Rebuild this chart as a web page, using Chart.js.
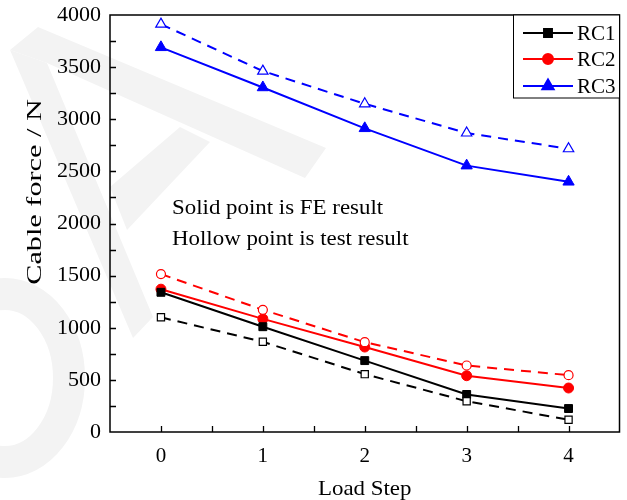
<!DOCTYPE html>
<html>
<head>
<meta charset="utf-8">
<script src="https://cdn.jsdelivr.net/npm/chart.js@4"></script>
<style>
  html, body { margin: 0; padding: 0; background: #fff; }
  #wrap { width: 627px; height: 500px; }
</style>
</head>
<body>
<div id="wrap"><canvas id="chart-cable" width="627" height="500"></canvas></div>
<script>
// ── Data ──────────────────────────────────────────────────────────────────────
const loadSteps = [0, 1, 2, 3, 4];
const rc1FE   = [1340, 1010, 685, 360, 225];
const rc1Test = [1100, 865, 555, 295, 118];
const rc2FE   = [1370, 1085, 815, 540, 422];
const rc2Test = [1515, 1172, 862, 638, 545];
const rc3FE   = [3690, 3305, 2913, 2555, 2400];
const rc3Test = [3912, 3462, 3148, 2868, 2717];

const legendNames = ['RC1', 'RC2', 'RC3'];
const noteLines = ['Solid point is FE result', 'Hollow point is test result'];
const xTitle = 'Load Step';
const yTitle = 'Cable force / N';

const FONT = "'Liberation Serif', 'Times New Roman', serif";
const DASH = [10, 7];

function _toXY(arr) {
  return loadSteps.map((s, i) => ({ x: s, y: arr[i] }));
}

// marker style per series
const seriesStyle = [
  { color: '#000000', style: 'rect', radius: 5.6 },
  { color: '#ff0000', style: 'circle', radius: 5 },
  { color: '#0000ff', style: 'triangle', radius: 6.5 },
];

function _solid(label, arr, s) {
  return {
    label,
    data: _toXY(arr),
    borderColor: s.color,
    backgroundColor: s.color,
    borderWidth: 2,
    pointStyle: s.style,
    pointRadius: s.radius,
    pointBackgroundColor: s.color,
    pointBorderColor: s.color,
    pointBorderWidth: 1,
    tension: 0,
  };
}

function _hollow(label, arr, s) {
  return {
    label,
    data: _toXY(arr),
    borderColor: s.color,
    backgroundColor: '#ffffff',
    borderWidth: 2,
    borderDash: DASH,
    pointStyle: s.style,
    pointRadius: s.radius - 0.5,
    pointBackgroundColor: '#ffffff',
    pointBorderColor: s.color,
    pointBorderWidth: 1.2,
    tension: 0,
  };
}

// order: dashed (test) first, then solid (FE) on top
const datasets = [
  _hollow('RC1 test', rc1Test, seriesStyle[0]),
  _hollow('RC2 test', rc2Test, seriesStyle[1]),
  _hollow('RC3 test', rc3Test, seriesStyle[2]),
  _solid('RC1', rc1FE, seriesStyle[0]),
  _solid('RC2', rc2FE, seriesStyle[1]),
  _solid('RC3', rc3FE, seriesStyle[2]),
];

// ── Faint watermark behind the plot ───────────────────────────────────────────
const watermarkPlugin = {
  id: 'watermark',
  beforeDraw(chart) {
    const ctx = chart.ctx;
    ctx.save();
    ctx.fillStyle = '#f3f3f3';
    ctx.strokeStyle = '#f3f3f3';
    const polys = [
      [[10, 50], [38, 27], [326, 148], [305, 178], [47, 63]],
      [[10, 50], [47, 63], [153, 317], [133, 338]],
      [[110, 187], [180, 127], [210, 142], [127, 230]],
    ];
    polys.forEach(p => {
      ctx.beginPath();
      ctx.moveTo(p[0][0], p[0][1]);
      p.slice(1).forEach(pt => ctx.lineTo(pt[0], pt[1]));
      ctx.closePath();
      ctx.fill();
    });
    ctx.lineWidth = 32;
    ctx.beginPath();
    ctx.ellipse(5, 378, 64, 84, 0, 0, Math.PI * 2);
    ctx.stroke();
    ctx.restore();
  },
};

// draw text stretched along its own direction
function _stretchText(ctx, text, x, y, sx) {
  ctx.save();
  ctx.translate(x, y);
  ctx.scale(sx, 1);
  ctx.fillText(text, 0, 0);
  ctx.restore();
}

// ── Frame, inward ticks, titles, note text and legend ─────────────────────────
const framePlugin = {
  id: 'frame',
  afterDraw(chart) {
    const ctx = chart.ctx;
    const { left, right, top, bottom } = chart.chartArea;
    const xs = chart.scales.x;
    const ys = chart.scales.y;
    ctx.save();

    // border box
    ctx.strokeStyle = '#000';
    ctx.lineWidth = 1.5;
    ctx.strokeRect(left, top, right - left, bottom - top);

    // inward ticks
    ctx.lineWidth = 1.3;
    ctx.beginPath();
    xs.ticks.forEach(t => {
      const px = Math.round(xs.getPixelForValue(t.value)) + 0.5;
      if (px <= left + 1 || px >= right - 1) return;
      ctx.moveTo(px, bottom);
      ctx.lineTo(px, bottom - 6);
    });
    ys.ticks.forEach(t => {
      const py = Math.round(ys.getPixelForValue(t.value)) + 0.5;
      if (py <= top + 1 || py >= bottom - 1) return;
      ctx.moveTo(left, py);
      ctx.lineTo(left + 6, py);
    });
    ctx.stroke();

    // axis titles
    ctx.fillStyle = '#000';
    ctx.font = `21px ${FONT}`;
    ctx.textAlign = 'center';
    ctx.textBaseline = 'alphabetic';
    _stretchText(ctx, xTitle, (left + right) / 2, 495, 1.09);
    ctx.save();
    ctx.translate(41, 192);
    ctx.rotate(-Math.PI / 2);
    ctx.scale(1.44, 1);
    ctx.fillText(yTitle, 0, 0);
    ctx.restore();

    // note text
    ctx.textAlign = 'left';
    ctx.font = `21px ${FONT}`;
    _stretchText(ctx, noteLines[0], 172, 214, 1.09);
    _stretchText(ctx, noteLines[1], 172, 245, 1.09);

    // legend
    ctx.lineWidth = 1;
    ctx.strokeStyle = '#000';
    ctx.fillStyle = '#fff';
    ctx.fillRect(513.5, top, right - 513.5, 83);
    ctx.strokeRect(513.5, top, right - 513.5, 83);
    const rowsY = [33, 59, 86];
    legendNames.forEach((name, i) => {
      const s = seriesStyle[i];
      const y = rowsY[i];
      ctx.strokeStyle = s.color;
      ctx.lineWidth = 2;
      ctx.beginPath();
      ctx.moveTo(523, y);
      ctx.lineTo(573, y);
      ctx.stroke();
      ctx.fillStyle = s.color;
      Chart.helpers.drawPoint(ctx, {
        pointStyle: s.style, radius: s.radius, borderWidth: 1, rotation: 0,
      }, 548, y);
      ctx.fillStyle = '#000';
      ctx.font = `21px ${FONT}`;
      ctx.textBaseline = 'middle';
      ctx.fillText(name, 577, y + 1);
    });
    ctx.restore();
  },
};

new Chart(document.getElementById('chart-cable').getContext('2d'), {
  type: 'line',
  data: { datasets },
  options: {
    responsive: false,
    devicePixelRatio: 1,
    animation: false,
    layout: { padding: { left: 0, top: 15, right: 5, bottom: 0 } },
    plugins: {
      legend: { display: false },
      tooltip: { enabled: false },
    },
    scales: {
      x: {
        type: 'linear',
        min: -0.5,
        max: 4.5,
        afterFit: s => {
          s.height = 68;
          s.paddingLeft = 0;
          s.paddingRight = 0;
        },
        grid: { display: false, drawTicks: false },
        border: { display: false },
        ticks: {
          stepSize: 0.5,
          autoSkip: false,
          maxRotation: 0,
          padding: 12,
          color: '#000',
          font: { family: FONT, size: 21 },
          callback: v => (Number.isInteger(v) && v >= 0 ? String(v) : ''),
        },
      },
      y: {
        min: 0,
        max: 4000,
        afterFit: s => {
          s.width = 110;
          s.paddingTop = 0;
          s.paddingBottom = 0;
        },
        grid: { display: false, drawTicks: false },
        border: { display: false },
        ticks: {
          stepSize: 250,
          autoSkip: false,
          padding: 9,
          color: '#000',
          font: { family: FONT, size: 22 },
          callback: v => (v % 500 === 0 ? String(v) : ''),
        },
      },
    },
  },
  plugins: [watermarkPlugin, framePlugin],
});
</script>
</body>
</html>
